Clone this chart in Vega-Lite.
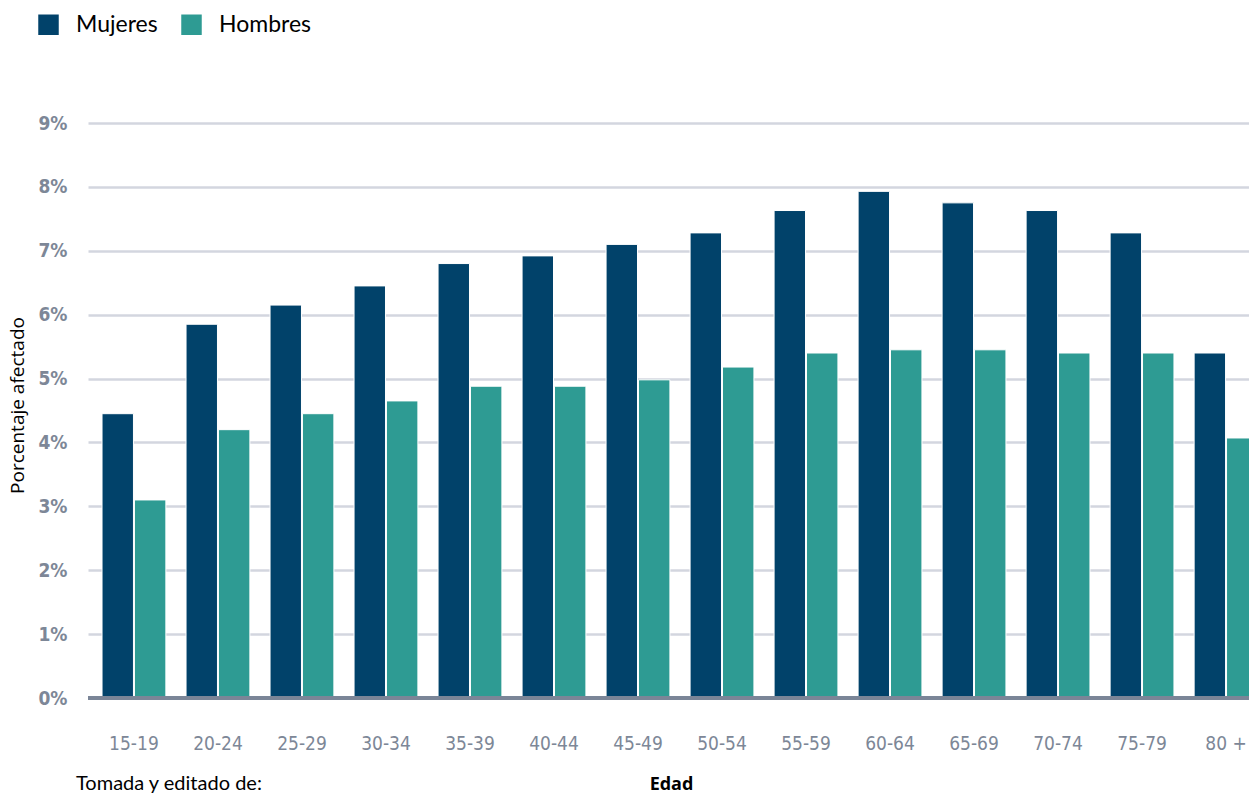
{
  "$schema": "https://vega.github.io/schema/vega-lite/v6.json",
  "autosize": {"type": "none"},
  "padding": {"left": 88, "top": 123, "right": 0, "bottom": 96},
  "width": 1184,
  "height": 575,
  "background": "white",
  "title": {"text": "Tomada y editado de:", "orient": "bottom", "anchor": "start", "frame": "group", "dx": -12, "offset": -19, "fontSize": 20, "font": "Lato", "fontWeight": "normal", "color": "#000000"},
  "data": {"values": [
    {"edad": "15-19", "sexo": "Mujeres", "valor": 4.45}, {"edad": "15-19", "sexo": "Hombres", "valor": 3.1},
    {"edad": "20-24", "sexo": "Mujeres", "valor": 5.85}, {"edad": "20-24", "sexo": "Hombres", "valor": 4.2},
    {"edad": "25-29", "sexo": "Mujeres", "valor": 6.15}, {"edad": "25-29", "sexo": "Hombres", "valor": 4.45},
    {"edad": "30-34", "sexo": "Mujeres", "valor": 6.45}, {"edad": "30-34", "sexo": "Hombres", "valor": 4.65},
    {"edad": "35-39", "sexo": "Mujeres", "valor": 6.8}, {"edad": "35-39", "sexo": "Hombres", "valor": 4.88},
    {"edad": "40-44", "sexo": "Mujeres", "valor": 6.92}, {"edad": "40-44", "sexo": "Hombres", "valor": 4.88},
    {"edad": "45-49", "sexo": "Mujeres", "valor": 7.1}, {"edad": "45-49", "sexo": "Hombres", "valor": 4.98},
    {"edad": "50-54", "sexo": "Mujeres", "valor": 7.28}, {"edad": "50-54", "sexo": "Hombres", "valor": 5.18},
    {"edad": "55-59", "sexo": "Mujeres", "valor": 7.63}, {"edad": "55-59", "sexo": "Hombres", "valor": 5.4},
    {"edad": "60-64", "sexo": "Mujeres", "valor": 7.93}, {"edad": "60-64", "sexo": "Hombres", "valor": 5.45},
    {"edad": "65-69", "sexo": "Mujeres", "valor": 7.75}, {"edad": "65-69", "sexo": "Hombres", "valor": 5.45},
    {"edad": "70-74", "sexo": "Mujeres", "valor": 7.63}, {"edad": "70-74", "sexo": "Hombres", "valor": 5.4},
    {"edad": "75-79", "sexo": "Mujeres", "valor": 7.28}, {"edad": "75-79", "sexo": "Hombres", "valor": 5.4},
    {"edad": "80 +", "sexo": "Mujeres", "valor": 5.4}, {"edad": "80 +", "sexo": "Hombres", "valor": 4.07}
  ]},
  "layer": [
    {
      "mark": {"type": "bar", "stroke": "white", "strokeWidth": 1},
      "encoding": {
        "x": {
          "field": "edad", "type": "nominal", "sort": null,
          "scale": {"paddingInner": 0.24, "paddingOuter": 0.167},
          "axis": {
            "title": "Edad", "titleFont": "Open Sans", "titleFontSize": 18, "titleFontWeight": "bold", "titleColor": "#000000", "titlePadding": 22, "titleX": 583,
            "labelAngle": 0, "labelFont": "DejaVu Sans Condensed", "labelFontSize": 19, "labelColor": "#7d8797", "labelPadding": 36, "labelDx": -7,
            "ticks": false, "domain": false, "grid": false
          }
        },
        "xOffset": {"field": "sexo", "type": "nominal", "sort": ["Mujeres", "Hombres"], "scale": {"paddingInner": 0.03}},
        "y": {
          "field": "valor", "type": "quantitative",
          "scale": {"domain": [0, 9], "nice": false},
          "axis": {
            "title": "Porcentaje afectado", "titleFont": "Open Sans", "titleFontSize": 19, "titleFontWeight": "normal", "titleColor": "#000000", "titlePadding": 10, "titleY": 282,
            "values": [0, 1, 2, 3, 4, 5, 6, 7, 8, 9], "labelExpr": "datum.value + '%'",
            "labelFont": "DejaVu Sans Condensed", "labelFontWeight": "bold", "labelFontSize": 19, "labelColor": "#7d8797", "labelPadding": 21,
            "ticks": false, "domain": false,
            "grid": true, "gridColor": "#d3d6df", "gridWidth": 2.5
          }
        },
        "color": {
          "field": "sexo", "type": "nominal", "sort": ["Mujeres", "Hombres"],
          "scale": {"domain": ["Mujeres", "Hombres"], "range": ["#01426a", "#2e9b93"]},
          "legend": {
            "title": null, "orient": "none", "direction": "horizontal", "legendX": -51, "legendY": -110,
            "symbolType": "square", "symbolSize": 420, "symbolStrokeWidth": 0, "symbolOpacity": 1,
            "labelFont": "Lato", "labelFontSize": 23, "labelColor": "#000000", "labelOffset": 16, "columnPadding": 22
          }
        }
      }
    },
    {
      "mark": {"type": "rule", "color": "#7b8597", "strokeWidth": 3},
      "encoding": {"y": {"datum": 0}}
    }
  ],
  "config": {"view": {"stroke": null}}
}
